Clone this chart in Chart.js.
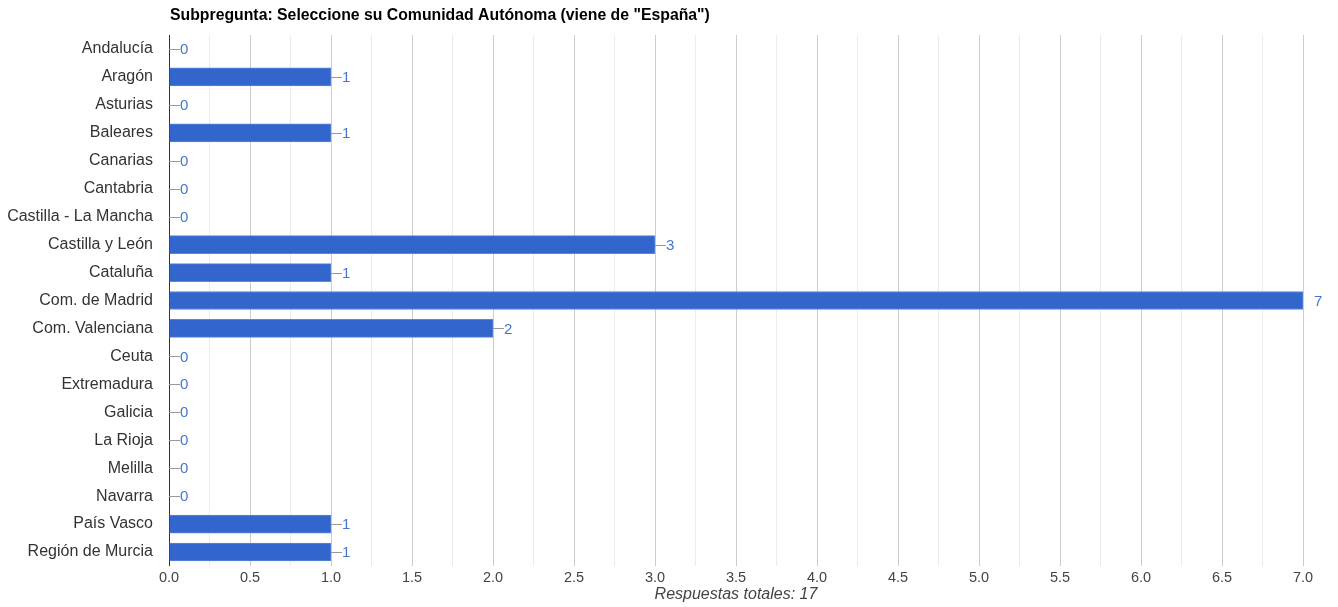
<!DOCTYPE html>
<html><head><meta charset="utf-8">
<script src="https://cdn.jsdelivr.net/npm/chart.js@4"></script>
<style>html,body{margin:0;padding:0;background:#fff;overflow:hidden}</style>
</head><body><canvas id="c" width="1338" height="607"></canvas>
<script>
const chartTitle = 'Subpregunta: Seleccione su Comunidad Autónoma (viene de "España")';
const axisTitle = 'Respuestas totales: 17';
const categories = ['Andalucía','Aragón','Asturias','Baleares','Canarias','Cantabria','Castilla - La Mancha','Castilla y León','Cataluña','Com. de Madrid','Com. Valenciana','Ceuta','Extremadura','Galicia','La Rioja','Melilla','Navarra','País Vasco','Región de Murcia'];
const values = [0,1,0,1,0,0,0,3,1,7,2,0,0,0,0,0,0,1,1];
const xMin = 0, xMax = 7, xStep = 0.25;

const FONT = 'Liberation Sans, Arial, sans-serif';

const labelsPlugin = {
  id: 'labelsPlugin',
  afterDatasetsDraw(chart) {
    const ctx = chart.ctx, meta = chart.getDatasetMeta(0), ca = chart.chartArea;
    ctx.save();
    ctx.font = '15px ' + FONT;
    ctx.textBaseline = 'middle';
    ctx.textAlign = 'left';
    meta.data.forEach((bar, i) => {
      const x = bar.x, y = bar.y;
      const inside = x + 2 <= ca.right;
      if (inside) {
        ctx.strokeStyle = '#999';
        ctx.lineWidth = 1;
        ctx.beginPath();
        ctx.moveTo(x, Math.round(y) + 0.5);
        ctx.lineTo(x + 11, Math.round(y) + 0.5);
        ctx.stroke();
      }
      ctx.fillStyle = '#4575d4';
      ctx.fillText(String(values[i]), x + 11, y + 1);
    });
    ctx.fillStyle = '#000';
    ctx.font = 'bold 15.8px ' + FONT;
    ctx.textBaseline = 'middle';
    ctx.fillText(chartTitle, 170, 16);
    ctx.fillStyle = '#444';
    ctx.font = 'italic 16px ' + FONT;
    ctx.textAlign = 'center';
    ctx.fillText(axisTitle, (ca.left + ca.right) / 2, 595);
    ctx.restore();
  }
};

new Chart(document.getElementById('c'), {
  type: 'bar',
  data: { labels: categories, datasets: [{ data: values, backgroundColor: '#3366cc', borderColor: '#5d86d8', borderWidth: 1, barThickness: 18 }] },
  options: {
    indexAxis: 'y', responsive: false, animation: false,
    devicePixelRatio: 1,
    layout: { padding: { top: 35, right: 35, left: 0, bottom: 0 } },
    plugins: { legend: { display: false }, tooltip: { enabled: false }, title: { display: false } },
    scales: {
      x: {
        min: xMin, max: xMax,
        afterBuildTicks(scale) {
          const t = [];
          for (let v = xMin; v <= xMax + 1e-9; v += xStep) t.push({ value: Math.round(v * 100) / 100 });
          scale.ticks = t;
        },
        afterFit(scale) { scale.height = 41; },
        ticks: {
          autoSkip: false, maxRotation: 0, padding: 3,
          color: '#444', font: { family: FONT, size: 14.5 },
          callback(v) { return Math.abs(v * 2 - Math.round(v * 2)) < 1e-9 ? v.toFixed(1) : ''; }
        },
        grid: {
          drawTicks: false,
          color(c) { const v = c.tick.value; if (v === 0) return '#333'; return Math.abs(v * 2 - Math.round(v * 2)) < 1e-9 ? '#cccccc' : '#ebebeb'; }
        },
        border: { display: false }
      },
      y: {
        afterFit(scale) { scale.width = 169; },
        ticks: { padding: 16, color: '#333', font: { family: FONT, size: 16 }, autoSkip: false },
        grid: { display: false, drawTicks: false },
        border: { display: false }
      }
    }
  },
  plugins: [labelsPlugin]
});
</script>
</body></html>
